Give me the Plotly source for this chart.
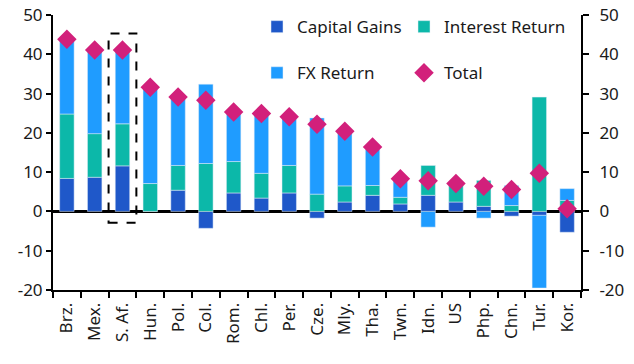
import plotly.graph_objects as go

countries = ["Brz.", "Mex.", "S. Af.", "Hun.", "Pol.", "Col.", "Rom.", "Chl.", "Per.", "Cze.",
             "Mly.", "Tha.", "Twn.", "Idn.", "US", "Php.", "Chn.", "Tur.", "Kor."]
capital_gains = [8.4, 8.7, 11.6, 0.0, 5.4, -4.3, 4.7, 3.4, 4.7, -1.7,
                 2.4, 4.1, 1.9, 4.1, 2.4, 1.3, -1.2, -1.0, -5.3]
interest_return = [16.4, 11.1, 10.7, 7.1, 6.3, 12.2, 8.0, 6.3, 7.0, 4.4,
                   4.1, 2.5, 1.7, 7.6, 4.7, 6.6, 1.5, 29.1, 2.8]
fx_return = [18.8, 21.3, 18.8, 24.4, 17.5, 20.2, 12.2, 15.2, 12.2, 19.4,
             13.5, 9.2, 4.6, -4.0, 0.0, -1.7, 5.1, -18.5, 3.0]
total = [43.8, 41.1, 41.1, 31.6, 29.1, 28.3, 25.3, 24.9, 24.1, 22.2,
         20.4, 16.4, 8.3, 7.8, 7.1, 6.4, 5.6, 9.7, 0.7]
y_ticks = [-20, -10, 0, 10, 20, 30, 40, 50]
y_tick_labels = ["-20", "-10", "0", "10", "20", "30", "40", "50"]

highlight = "S. Af."
highlight_box = [-2.9, 45.3]

C_CG = "#1f58c9"
C_IR = "#0cb8a9"
C_FX = "#1f9cff"
C_TOT = "#d2207b"
FONT = "Noto Sans"
TXT = "#1a1a1a"

fig = go.Figure()
fig.add_trace(go.Bar(x=countries, y=capital_gains, name="Capital Gains", marker_color=C_CG,
                     legend="legend", legendgroup="a"))
fig.add_trace(go.Bar(x=countries, y=interest_return, name="Interest Return", marker_color=C_IR,
                     legend="legend2", legendgroup="c"))
fig.add_trace(go.Bar(x=countries, y=fx_return, name="FX Return", marker_color=C_FX,
                     legend="legend", legendgroup="b"))
fig.add_trace(go.Scatter(x=countries, y=total, name="Total", mode="markers",
                         marker=dict(symbol="diamond", size=15, color=C_TOT),
                         legend="legend2", legendgroup="d"))
fig.add_trace(go.Scatter(x=countries, y=total, yaxis="y2", mode="markers",
                         marker=dict(opacity=0), showlegend=False, hoverinfo="skip"))

idx = countries.index(highlight)
fig.add_shape(type="rect", xref="x", yref="y", x0=idx - 0.5, x1=idx + 0.5,
              y0=highlight_box[0], y1=highlight_box[1],
              line=dict(color="black", width=2, dash="dash"), fillcolor="rgba(0,0,0,0)")

legend_common = dict(orientation="v", font=dict(family=FONT, size=17, color=TXT),
                     bgcolor="rgba(0,0,0,0)", tracegroupgap=21, itemwidth=30,
                     xanchor="left", yanchor="top", xref="container", yref="container",
                     y=0.975)

fig.update_layout(
    width=634, height=364,
    margin=dict(l=53, r=53, t=15, b=74, autoexpand=False),
    paper_bgcolor="white", plot_bgcolor="white",
    barmode="relative", bargap=0.48,
    font=dict(family=FONT, size=17, color=TXT),
    legend=dict(x=257 / 634, **legend_common),
    legend2=dict(x=404 / 634, **legend_common),
    xaxis=dict(type="category", range=[-0.5, len(countries) - 0.5], tickangle=-90,
               showline=True, linecolor="black", linewidth=2,
               ticks="outside", tickson="boundaries", ticklen=6, tickwidth=2, tickcolor="black",
               showgrid=False, tickfont=dict(size=17, color=TXT), automargin=False,
               ticklabelstandoff=4),
    yaxis=dict(range=[-20, 50], tickvals=y_ticks, ticktext=y_tick_labels, showline=True,
               linecolor="black", linewidth=2,
               ticks="outside", ticklen=5, tickwidth=2, tickcolor="black", showgrid=False,
               zeroline=True, zerolinecolor="black", zerolinewidth=2.5, automargin=False,
               ticklabelstandoff=0, tickfont=dict(size=17, color=TXT)),
    yaxis2=dict(range=[-20, 50], tickvals=y_ticks, ticktext=y_tick_labels, overlaying="y",
                side="right", showline=True, linecolor="black", linewidth=2, ticks="outside",
                ticklen=6, tickwidth=2, tickcolor="black", showgrid=False, zeroline=False,
                automargin=False, ticklabelstandoff=7, tickfont=dict(size=17, color=TXT)),
)

fig.write_html("out.html", config={"displayModeBar": False},
               post_script="document.body.style.margin='0';")
